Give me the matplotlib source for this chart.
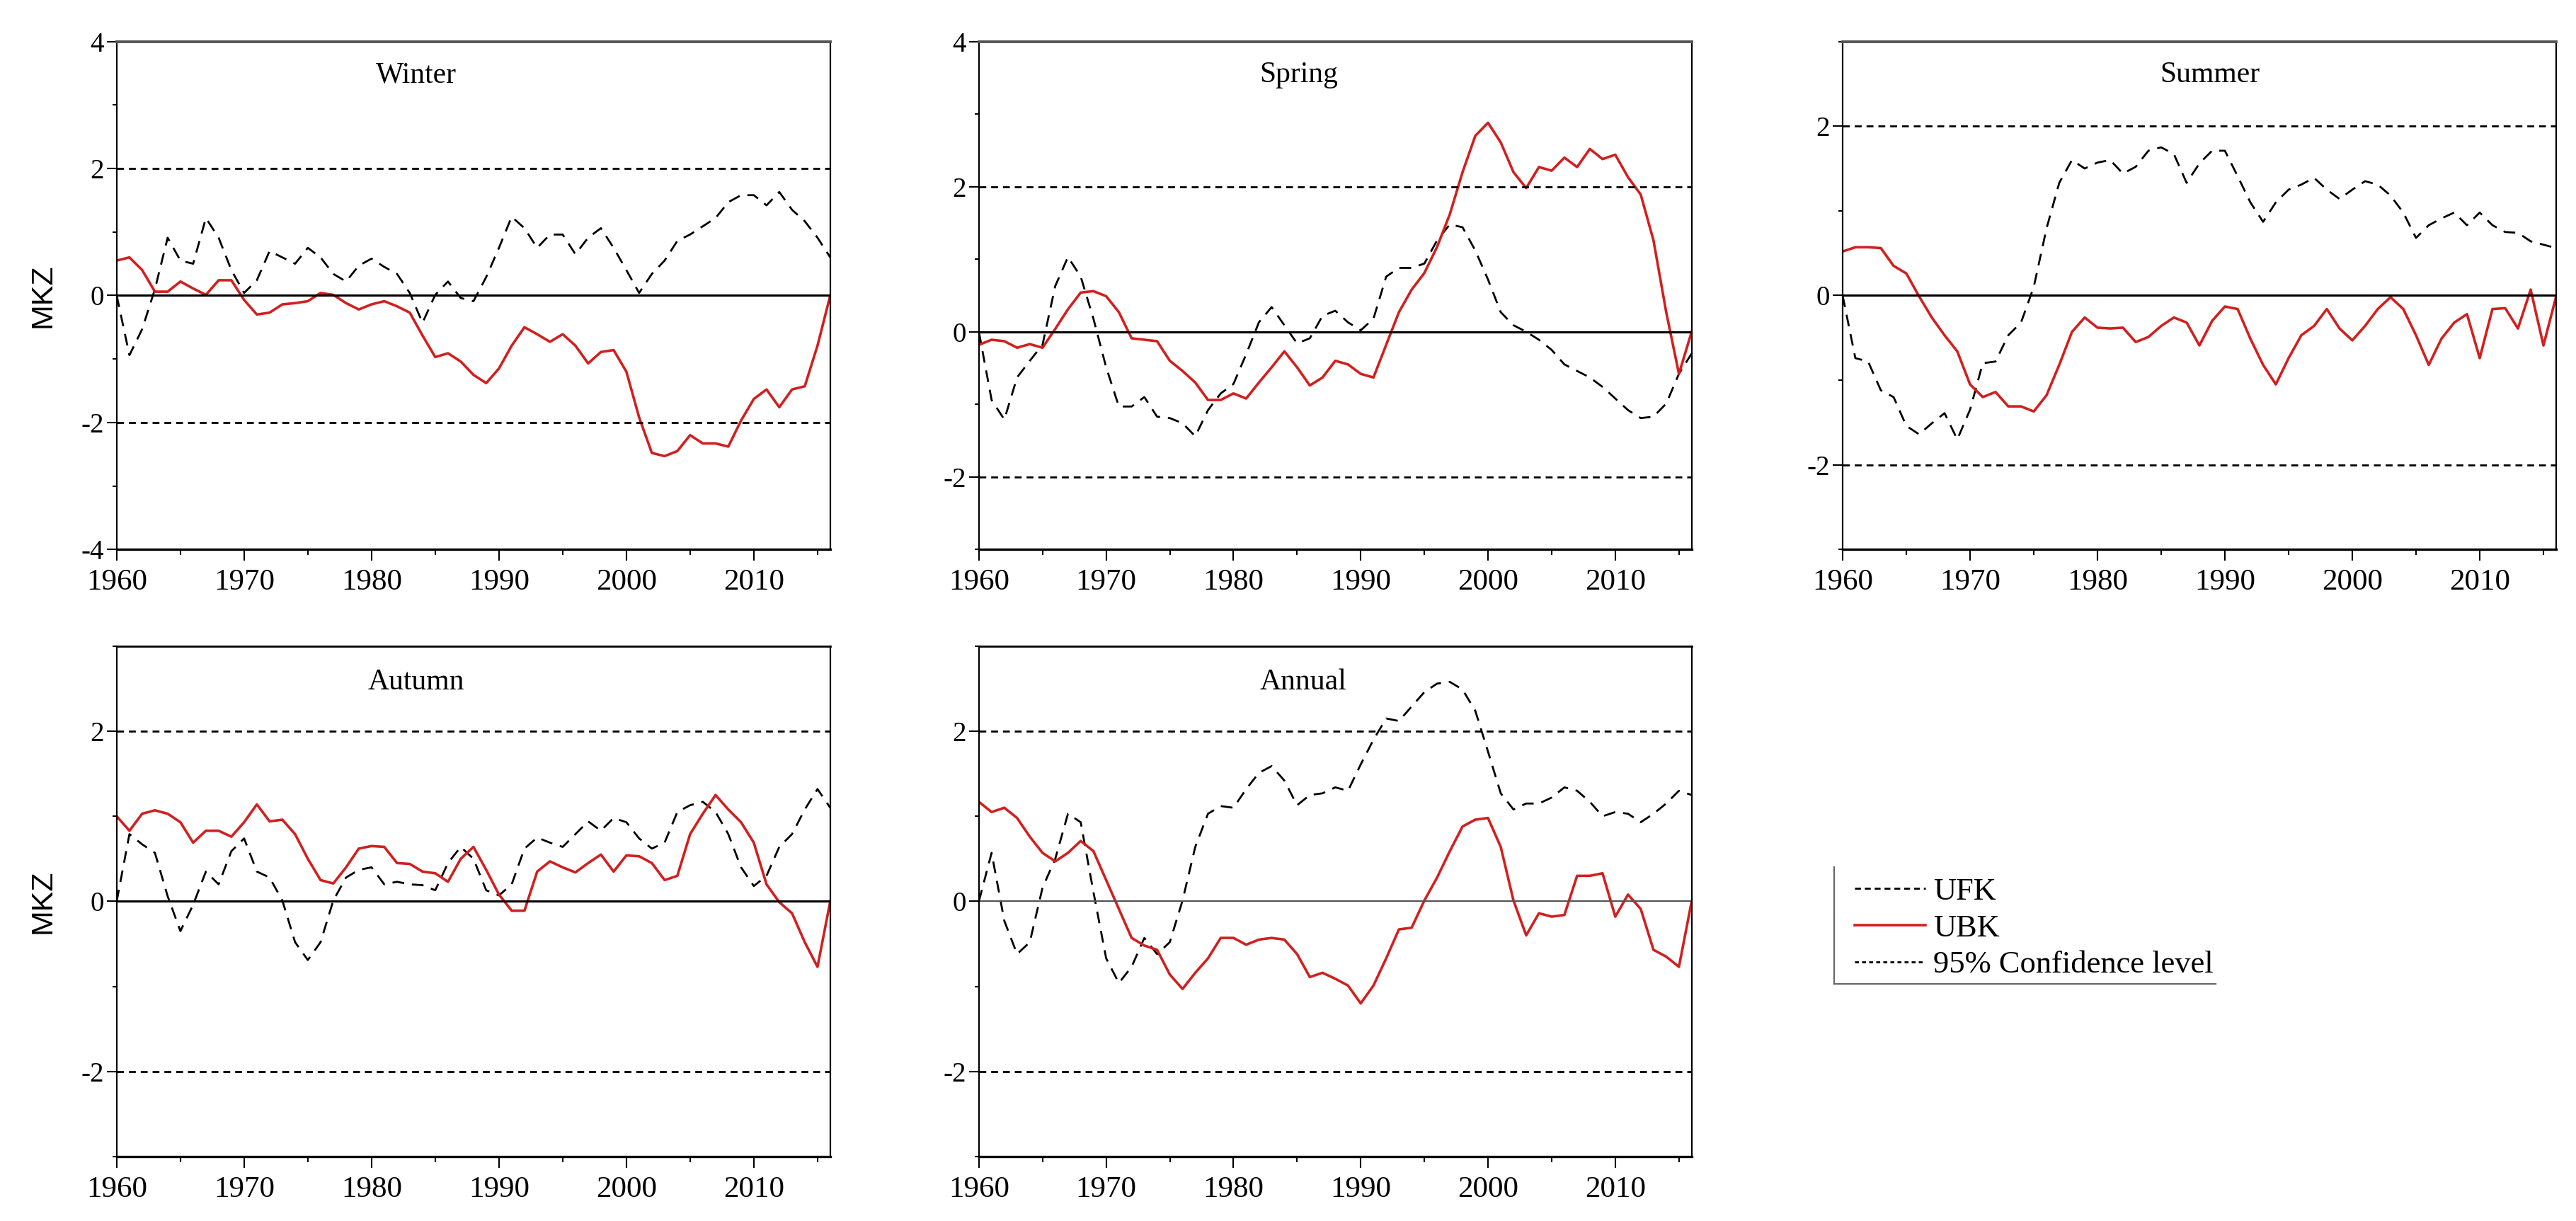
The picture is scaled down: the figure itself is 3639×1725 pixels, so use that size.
import numpy as np
import matplotlib.pyplot as plt
from matplotlib.ticker import MultipleLocator
from matplotlib.lines import Line2D

plt.rcParams['font.family'] = 'Liberation Serif'
plt.rcParams['axes.unicode_minus'] = False

years = np.arange(1960, 2017)

# Mann-Kendall statistics (one value per year)
winter_ufk = [0.00, -0.94, -0.53, 0.10, 0.91, 0.55, 0.50, 1.22, 0.91, 0.40,
              0.04, 0.24, 0.70, 0.60, 0.50, 0.75, 0.60, 0.34, 0.22, 0.47,
              0.58, 0.45, 0.34, 0.04, -0.43, 0.01, 0.22, -0.04, -0.09, 0.29,
              0.75, 1.24, 1.06, 0.75, 0.96, 0.96, 0.65, 0.91, 1.06, 0.75,
              0.40, 0.04, 0.34, 0.55, 0.86, 0.96, 1.09, 1.22, 1.47, 1.58,
              1.58, 1.42, 1.63, 1.35, 1.17, 0.91, 0.60]
winter_ubk = [0.55, 0.60, 0.40, 0.06, 0.06, 0.22, 0.11, 0.01, 0.24, 0.24,
              -0.07, -0.30, -0.27, -0.14, -0.12, -0.09, 0.04, 0.01, -0.12, -0.22,
              -0.14, -0.09, -0.17, -0.27, -0.63, -0.97, -0.91, -1.04, -1.25, -1.38,
              -1.15, -0.79, -0.50, -0.61, -0.73, -0.61, -0.79, -1.07, -0.89, -0.86,
              -1.20, -1.92, -2.48, -2.53, -2.45, -2.20, -2.33, -2.33, -2.38, -1.97,
              -1.63, -1.48, -1.76, -1.48, -1.43, -0.79, 0.00]

spring_ufk = [0.00, -0.94, -1.21, -0.63, -0.40, -0.18, 0.63, 1.03, 0.76, 0.18,
              -0.49, -1.03, -1.03, -0.90, -1.17, -1.19, -1.26, -1.44, -1.08, -0.85,
              -0.72, -0.31, 0.13, 0.34, 0.09, -0.16, -0.09, 0.22, 0.29, 0.13,
              0.02, 0.18, 0.76, 0.88, 0.88, 0.94, 1.26, 1.48, 1.44, 1.12,
              0.72, 0.27, 0.09, 0.00, -0.11, -0.25, -0.45, -0.54, -0.63, -0.76,
              -0.92, -1.08, -1.19, -1.17, -0.99, -0.58, -0.30]
spring_ubk = [-0.18, -0.11, -0.13, -0.22, -0.17, -0.22, 0.04, 0.31, 0.54, 0.56,
              0.49, 0.27, -0.09, -0.11, -0.13, -0.40, -0.54, -0.70, -0.94, -0.94,
              -0.85, -0.92, -0.70, -0.49, -0.27, -0.49, -0.74, -0.63, -0.40, -0.45,
              -0.58, -0.63, -0.18, 0.27, 0.58, 0.81, 1.17, 1.62, 2.20, 2.70,
              2.88, 2.61, 2.20, 1.98, 2.27, 2.22, 2.40, 2.27, 2.52, 2.38,
              2.44, 2.13, 1.89, 1.26, 0.27, -0.58, 0.00]

summer_ufk = [0.00, -0.74, -0.78, -1.12, -1.20, -1.54, -1.64, -1.51, -1.39, -1.70,
              -1.35, -0.80, -0.78, -0.47, -0.32, 0.10, 0.79, 1.33, 1.60, 1.50,
              1.57, 1.60, 1.44, 1.52, 1.71, 1.75, 1.67, 1.33, 1.56, 1.71,
              1.71, 1.41, 1.10, 0.87, 1.10, 1.25, 1.31, 1.39, 1.25, 1.14,
              1.25, 1.35, 1.31, 1.18, 0.98, 0.68, 0.83, 0.91, 0.98, 0.83,
              0.98, 0.83, 0.75, 0.74, 0.64, 0.60, 0.56]
summer_ubk = [0.52, 0.57, 0.57, 0.56, 0.35, 0.26, -0.01, -0.26, -0.47, -0.66,
              -1.05, -1.20, -1.14, -1.31, -1.31, -1.37, -1.18, -0.82, -0.43, -0.26,
              -0.38, -0.39, -0.38, -0.55, -0.49, -0.36, -0.26, -0.32, -0.59, -0.30,
              -0.13, -0.16, -0.51, -0.82, -1.05, -0.74, -0.47, -0.36, -0.16, -0.39,
              -0.53, -0.36, -0.16, -0.02, -0.16, -0.47, -0.82, -0.51, -0.32, -0.22,
              -0.74, -0.16, -0.15, -0.39, 0.07, -0.59, -0.01]

autumn_ufk = [0.00, 0.79, 0.67, 0.57, 0.06, -0.35, -0.04, 0.35, 0.20, 0.59,
              0.74, 0.35, 0.28, 0.01, -0.48, -0.69, -0.48, 0.01, 0.28, 0.37,
              0.40, 0.20, 0.23, 0.20, 0.19, 0.13, 0.45, 0.64, 0.50, 0.13,
              0.07, 0.20, 0.62, 0.75, 0.69, 0.64, 0.79, 0.94, 0.83, 0.98,
              0.93, 0.74, 0.62, 0.69, 1.05, 1.13, 1.17, 1.05, 0.79, 0.40,
              0.18, 0.30, 0.64, 0.79, 1.08, 1.32, 1.10]
autumn_ubk = [1.00, 0.83, 1.03, 1.07, 1.03, 0.93, 0.69, 0.83, 0.83, 0.76,
              0.93, 1.14, 0.94, 0.96, 0.79, 0.50, 0.25, 0.21, 0.40, 0.62,
              0.65, 0.64, 0.45, 0.44, 0.35, 0.33, 0.23, 0.50, 0.64, 0.37,
              0.08, -0.11, -0.11, 0.35, 0.47, 0.40, 0.34, 0.45, 0.55, 0.35,
              0.54, 0.53, 0.45, 0.25, 0.30, 0.79, 1.03, 1.25, 1.08, 0.93,
              0.69, 0.20, -0.01, -0.14, -0.48, -0.77, 0.00]

annual_ufk = [0.00, 0.57, -0.23, -0.62, -0.48, 0.16, 0.50, 1.03, 0.93, 0.11,
              -0.67, -0.96, -0.77, -0.43, -0.62, -0.48, 0.01, 0.64, 1.03, 1.12,
              1.10, 1.32, 1.51, 1.59, 1.42, 1.13, 1.25, 1.27, 1.34, 1.30,
              1.61, 1.90, 2.15, 2.12, 2.29, 2.46, 2.56, 2.58, 2.49, 2.24,
              1.76, 1.27, 1.08, 1.15, 1.15, 1.22, 1.34, 1.30, 1.17, 1.00,
              1.05, 1.03, 0.93, 1.03, 1.15, 1.30, 1.25]
annual_ubk = [1.17, 1.05, 1.10, 0.98, 0.76, 0.57, 0.47, 0.57, 0.71, 0.59,
              0.25, -0.09, -0.43, -0.52, -0.57, -0.86, -1.03, -0.84, -0.67, -0.43,
              -0.43, -0.51, -0.45, -0.43, -0.45, -0.62, -0.89, -0.84, -0.91, -0.99,
              -1.20, -0.99, -0.67, -0.33, -0.31, 0.01, 0.28, 0.59, 0.88, 0.96,
              0.98, 0.64, 0.01, -0.40, -0.14, -0.18, -0.16, 0.30, 0.30, 0.33,
              -0.18, 0.08, -0.09, -0.57, -0.65, -0.77, 0.00]

titles = ['Winter', 'Spring', 'Summer', 'Autumn', 'Annual']
ufk_all = [winter_ufk, spring_ufk, summer_ufk, autumn_ufk, annual_ufk]
ubk_all = [winter_ubk, spring_ubk, summer_ubk, autumn_ubk, annual_ubk]
ylims = [(-4, 4), (-3, 4), (-3, 3), (-3, 3), (-3, 3)]
conf = 2.0

red = '#d0201f'

fig = plt.figure(figsize=(36.39, 17.25), dpi=100)

# axes rectangles [left, bottom, width, height] in figure fraction
rects = [[0.0453, 0.550, 0.277, 0.416],
         [0.3800, 0.550, 0.2767, 0.416],
         [0.7153, 0.550, 0.277, 0.416],
         [0.0453, 0.0528, 0.277, 0.418],
         [0.3800, 0.0528, 0.2767, 0.418]]
title_pos = [(0.42, 0.934), (0.449, 0.934), (0.515, 0.934), (0.42, 0.93), (0.455, 0.93)]

for i in range(5):
    ax = fig.add_axes(rects[i])
    ax.plot(years, ufk_all[i], color='black', lw=2.0, ls=(0, (6, 4)))
    ax.plot(years, ubk_all[i], color=red, lw=2.6)
    ax.axhline(conf, color='black', lw=2.0, ls=(0, (3.5, 2.5)))
    ax.axhline(-conf, color='black', lw=2.0, ls=(0, (3.5, 2.5)))
    if i == 4:
        ax.axhline(0, color='#555555', lw=1.6)
    else:
        ax.axhline(0, color='black', lw=2.2)

    ax.set_xlim(1960, 2016)
    ax.set_ylim(*ylims[i])
    ax.xaxis.set_major_locator(MultipleLocator(10))
    ax.xaxis.set_minor_locator(MultipleLocator(5))
    ax.yaxis.set_major_locator(MultipleLocator(2))
    ax.yaxis.set_minor_locator(MultipleLocator(1))
    ax.tick_params(axis='x', which='major', direction='out', length=11.5, width=1.5,
                   labelsize=31, pad=8)
    ax.tick_params(axis='x', which='minor', direction='out', length=6, width=1.5)
    ax.tick_params(axis='y', which='major', direction='out', length=10, width=1.5,
                   labelsize=28, pad=3)
    ax.tick_params(axis='y', which='minor', direction='out', length=4, width=1.5)

    for s in ['left', 'right']:
        ax.spines[s].set_linewidth(1.6)
    ax.spines['bottom'].set_linewidth(2.4)
    if i < 3:
        ax.spines['top'].set_linewidth(2.8)
        ax.spines['top'].set_color('#555555')
    else:
        ax.spines['top'].set_linewidth(2.0)

    ax.text(title_pos[i][0], title_pos[i][1], titles[i], transform=ax.transAxes,
            ha='center', va='center', fontsize=30)

    if i in (0, 3):
        ax.set_ylabel('MKZ', family='Liberation Sans', fontsize=31)
        ax.yaxis.set_label_coords(-0.084, 0.5)

# legend
handles = [Line2D([], [], color='black', lw=2.0, ls=(0, (3, 2))),
           Line2D([], [], color=red, lw=2.6),
           Line2D([], [], color='black', lw=2.0, ls=(0, (2, 1.6)))]
labels = ['UFK', 'UBK', '95% Confidence level']
fig.legend(handles, labels, loc='upper left', bbox_to_anchor=(0.720, 0.2812),
           frameon=False, fontsize=32, handlelength=2.25, handletextpad=0.25,
           labelspacing=0.26, borderpad=0, borderaxespad=0)

# partial box around legend (left and bottom edges only)
fig.add_artist(Line2D([0.712, 0.712], [1 - 1225 / 1725, 1 - 1390 / 1725],
                      transform=fig.transFigure, color='#666666', lw=1.6))
fig.add_artist(Line2D([0.712, 0.860], [1 - 1390 / 1725, 1 - 1390 / 1725],
                      transform=fig.transFigure, color='#666666', lw=1.6))

fig.savefig('out.png', dpi=100)
